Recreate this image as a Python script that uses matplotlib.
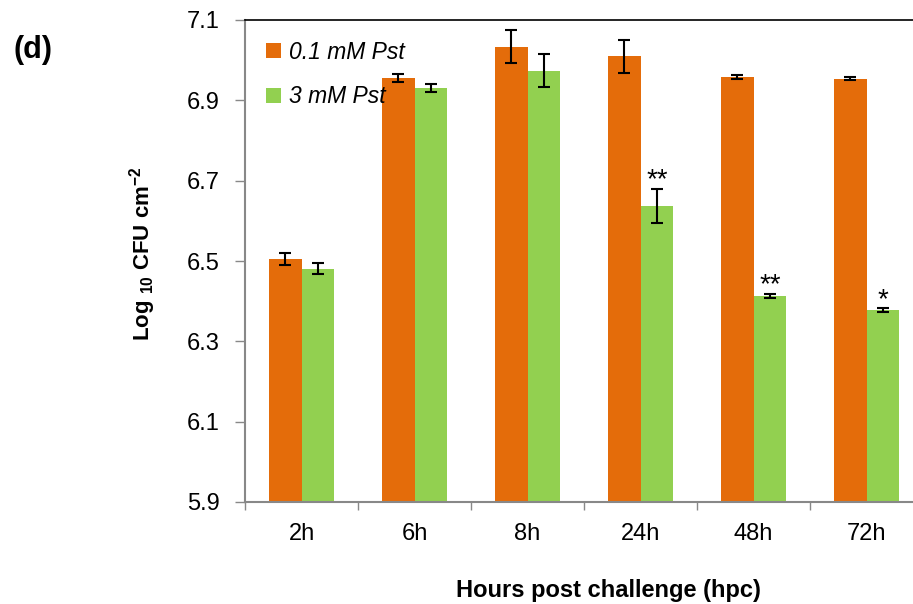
import matplotlib
matplotlib.use("Agg")
import matplotlib.pyplot as plt
import numpy as np

plt.rcParams['font.family'] = ['Liberation Sans', 'DejaVu Sans']
plt.rcParams['mathtext.fontset'] = 'custom'
plt.rcParams['mathtext.rm'] = 'Liberation Sans:bold'
plt.rcParams['mathtext.bf'] = 'Liberation Sans:bold'
plt.rcParams['mathtext.it'] = 'Liberation Sans:bold'

categories = ['2h', '6h', '8h', '24h', '48h', '72h']
low_pst = [6.505, 6.956, 7.034, 7.010, 6.957, 6.954]
low_err = [0.014, 0.010, 0.041, 0.041, 0.005, 0.004]
high_pst = [6.481, 6.931, 6.974, 6.637, 6.414, 6.378]
high_err = [0.013, 0.010, 0.041, 0.043, 0.005, 0.004]
signif = ['', '', '', '**', '**', '*']
series_names = ['0.1 mM Pst', '3 mM Pst']
yticks = [5.9, 6.1, 6.3, 6.5, 6.7, 6.9, 7.1]

orange = '#E46C0A'
green = '#92D050'

fig = plt.figure(figsize=(9.13, 6.04), dpi=100)
ax = fig.add_axes([245/913, 1-502/604, 678/913, 482/604])

x = np.arange(len(categories))
w = 0.29
ax.bar(x - w/2, [v - 5.9 for v in low_pst], w, bottom=5.9, color=orange, label=series_names[0], zorder=2)
ax.bar(x + w/2, [v - 5.9 for v in high_pst], w, bottom=5.9, color=green, label=series_names[1], zorder=2)
ax.errorbar(x - w/2, low_pst, yerr=low_err, fmt='none', ecolor='black', elinewidth=1.5, capsize=4, capthick=1.5, zorder=3)
ax.errorbar(x + w/2, high_pst, yerr=high_err, fmt='none', ecolor='black', elinewidth=1.5, capsize=4, capthick=1.5, zorder=3)

for xi, v, e, s in zip(x, high_pst, high_err, signif):
    if s:
        ax.text(xi + w/2, v + e + 0.004, s, ha='center', va='baseline', fontsize=20, color='black')

ax.set_xlim(-0.5, 5.5)
ax.set_ylim(5.9, 7.1)
ax.set_yticks(yticks)
ax.set_yticklabels([f'{t:.1f}' for t in yticks], fontsize=17)
ax.set_xticks(x)
ax.set_xticklabels(categories, fontsize=17)
ax.set_xticks(np.arange(-0.5, 6.0, 1.0), minor=True)
ax.tick_params(axis='x', which='major', length=0, pad=15)
ax.tick_params(axis='x', which='minor', length=6, color='#888888', width=1)
ax.tick_params(axis='y', length=7, color='#888888', width=1, pad=11)

for side in ['left', 'bottom']:
    ax.spines[side].set_color('#888888')
    ax.spines[side].set_linewidth(1.5)
ax.spines['top'].set_color('black')
ax.spines['top'].set_linewidth(1.2)
ax.spines['right'].set_visible(False)

leg = ax.legend(loc='upper left', bbox_to_anchor=(0.0, 1.0), frameon=False,
                prop={'style': 'italic', 'size': 16.5}, handlelength=0.65, handleheight=0.65,
                handletextpad=0.35, labelspacing=0.95, borderaxespad=0.6, borderpad=0.3)

fig.text(143/913, 1-254/604, r'Log $_{\mathbf{10}}$ CFU cm$^{\mathbf{-2}}$', rotation=90,
         ha='center', va='center', fontsize=16, fontweight='bold')
fig.text(608/913, 1-590/604, 'Hours post challenge (hpc)', ha='center', va='center', fontsize=17, fontweight='bold')
fig.text(33/913, 1-50/604, '(d)', ha='center', va='center', fontsize=22, fontweight='bold')

fig.savefig('out.png', dpi=100)
